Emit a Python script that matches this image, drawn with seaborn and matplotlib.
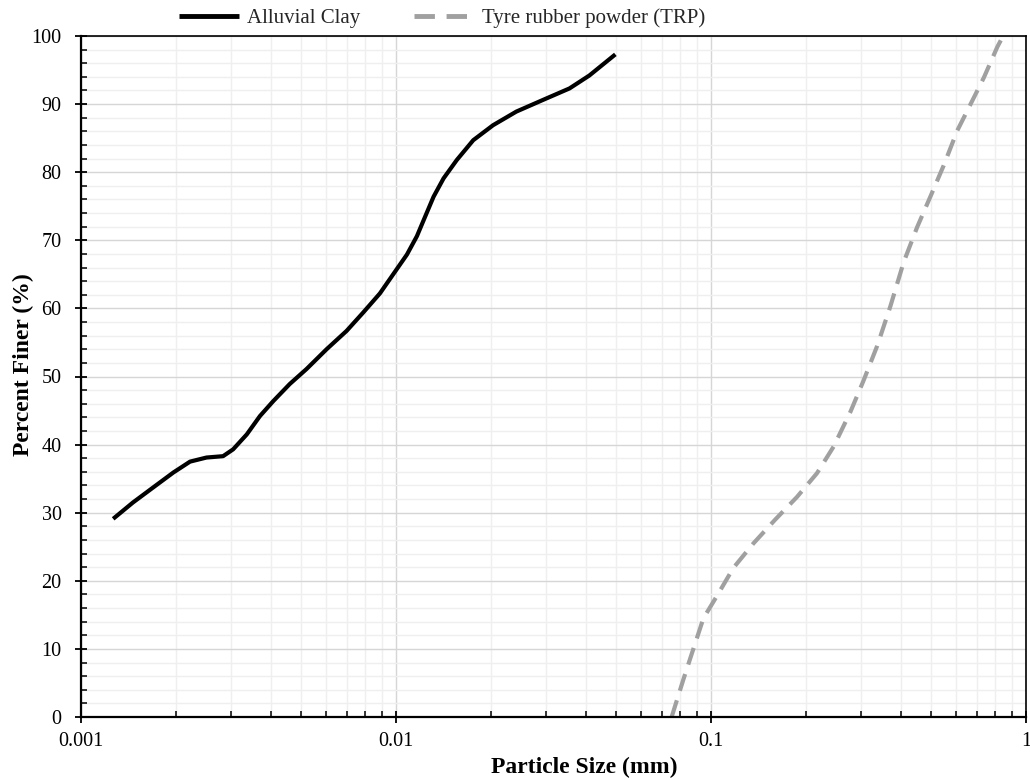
import matplotlib
matplotlib.use("Agg")
import matplotlib.pyplot as plt
import matplotlib.ticker as mticker
import seaborn as sns
import pandas as pd
import numpy as np

# ---- data ----
clay_size = [0.001265, 0.001462, 0.001694, 0.001964, 0.002219, 0.002503, 0.002825, 0.00304,
             0.00336, 0.0037, 0.00408, 0.0046, 0.0052, 0.00602, 0.00697, 0.00787,
             0.00889, 0.0100, 0.01083, 0.01165, 0.01238, 0.01316, 0.01416,
             0.0156, 0.01759, 0.02033, 0.0241, 0.02924, 0.03554, 0.0411, 0.0497]
clay_finer = [29.1, 31.5, 33.7, 35.9, 37.5, 38.1, 38.3, 39.3,
              41.5, 44.2, 46.4, 48.9, 51.1, 54.0, 56.7, 59.4,
              62.2, 65.6, 67.9, 70.6, 73.5, 76.4, 79.1,
              81.8, 84.7, 86.9, 88.9, 90.6, 92.3, 94.2, 97.3]

trp_size = [0.0750, 0.0817, 0.0879, 0.0946, 0.1042, 0.1178, 0.1364, 0.160, 0.1874,
            0.217, 0.245, 0.277, 0.305, 0.337, 0.371, 0.409, 0.451, 0.498,
            0.548, 0.605, 0.667, 0.735, 0.811, 0.846]
trp_finer = [0.0, 5.5, 10.0, 14.5, 17.7, 21.9, 25.5, 29.0, 32.3,
             35.8, 39.7, 44.8, 49.4, 54.5, 60.3, 66.8, 71.9, 76.5,
             81.0, 86.1, 90.0, 93.9, 98.4, 100.0]

series_names = ["Alluvial Clay", "Tyre rubber powder (TRP)"]
x_ticks = [0.001, 0.01, 0.1, 1]
x_tick_labels = ["0.001", "0.01", "0.1", "1"]
y_ticks = list(range(0, 101, 10))
x_label = "Particle Size (mm)"
y_label = "Percent Finer (%)"

df = pd.concat([
    pd.DataFrame({"size": clay_size, "finer": clay_finer, "series": series_names[0]}),
    pd.DataFrame({"size": trp_size, "finer": trp_finer, "series": series_names[1]}),
], ignore_index=True)

sns.set_theme(style="white")
plt.rcParams["font.family"] = ["Liberation Serif", "DejaVu Serif"]
plt.rcParams["lines.solid_joinstyle"] = "round"
plt.rcParams["lines.solid_capstyle"] = "butt"
plt.rcParams["lines.dash_joinstyle"] = "round"
plt.rcParams["lines.dash_capstyle"] = "butt"

fig = plt.figure(figsize=(10.3, 7.8), dpi=100)
ax = fig.add_axes([81 / 1030, 1 - 717 / 780, (1026 - 81) / 1030, (717 - 36) / 780])

sns.lineplot(data=df, x="size", y="finer", hue="series", style="series",
             palette={series_names[0]: "black", series_names[1]: "#a0a0a0"},
             dashes={series_names[0]: "", series_names[1]: (4.2, 2.4)},
             sort=False, estimator=None, linewidth=3, ax=ax, legend=True)

ax.set_xscale("log")
ax.set_xlim(0.001, 1)
ax.set_ylim(0, 100)
ax.set_xticks(x_ticks)
ax.set_xticklabels(x_tick_labels)
ax.xaxis.set_minor_locator(mticker.LogLocator(base=10, subs=np.arange(2, 10)))
ax.xaxis.set_minor_formatter(mticker.NullFormatter())
ax.set_yticks(y_ticks)
ax.yaxis.set_minor_locator(mticker.MultipleLocator(2))

ax.grid(which="major", color="#d6d6d6", linewidth=1.0)
ax.grid(which="minor", color="#efefef", linewidth=1.0)
ax.set_axisbelow(True)

ax.tick_params(axis="both", which="major", direction="inout", length=8, width=1.3,
               color="black", labelsize=14.5, labelcolor="black")
ax.tick_params(axis="y", which="major", pad=10)
ax.tick_params(axis="x", which="major", pad=7)
ax.tick_params(axis="both", which="minor", direction="in", length=4, width=1.1, color="black")
ax.tick_params(bottom=True, left=True, top=False, right=False, which="both")

for side in ["left", "bottom"]:
    ax.spines[side].set_color("black")
    ax.spines[side].set_linewidth(1.6)
for side in ["top", "right"]:
    ax.spines[side].set_color("black")
    ax.spines[side].set_linewidth(1.2)

ax.set_xlabel(x_label, fontsize=17, fontweight="bold", color="black")
ax.set_ylabel(y_label, fontsize=17, fontweight="bold", color="black")
ax.xaxis.set_label_coords((584 - 81) / (1026 - 81), -0.058)
ax.yaxis.set_label_coords((34 - 81) / (1026 - 81), (717 - 365) / (717 - 36))

handles, labels = ax.get_legend_handles_labels()
leg = ax.legend(handles, labels, loc="center", bbox_to_anchor=(442 / 1030, 1 - 18 / 780),
                bbox_transform=fig.transFigure, ncol=2, frameon=False, fontsize=15,
                handlelength=2.9, handletextpad=0.35, columnspacing=2.6, borderaxespad=0)
for line in leg.get_lines():
    line.set_linewidth(3.5)

fig.savefig("out.png", dpi=100)
